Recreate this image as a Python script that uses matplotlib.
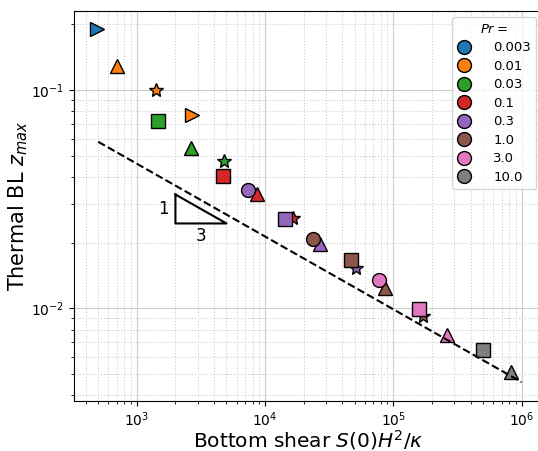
import numpy as np
import matplotlib.pyplot as plt

# Prandtl numbers and their colours
pr_labels = ['0.003', '0.01', '0.03', '0.1', '0.3', '1.0', '3.0', '10.0']
pr_colors = ['C0', 'C1', 'C2', 'C3', 'C4', 'C5', 'C6', 'C7']

# points: (Pr index, marker, shear, z_max)
pr_idx = [0, 1, 1, 1, 2, 2, 2, 3, 3, 3, 4, 4, 4, 4, 5, 5, 5, 5, 6, 6, 6, 7, 7]
markers = ['>', '^', '*', '>', 's', '^', '*', 's', '^', '*',
           'o', 's', '^', '*', 'o', 's', '^', '*', 'o', 's', '^', 's', '^']
shear = [485, 706, 1413, 2680, 1465, 2630, 4810, 4670, 8590, 16450,
         7310, 14260, 26680, 51500, 23660, 47100, 85500, 169800,
         76900, 157400, 263000, 497700, 828000]
zmax = [0.1897, 0.1285, 0.100, 0.0768, 0.0723, 0.0541, 0.0474, 0.0406, 0.0333, 0.0259,
        0.0348, 0.0256, 0.0197, 0.01524, 0.0207, 0.01665, 0.01236, 0.00923,
        0.01349, 0.00993, 0.00755, 0.00644, 0.00513]

# scaling line z ~ S^(-1/3)
line_x = np.array([500, 1e6])
line_c = 0.46

fig = plt.figure(figsize=(5.38, 4.51), dpi=100)
ax = fig.add_axes([0.138, 0.1115, 0.871, 0.8645])

for i, m, s, z in zip(pr_idx, markers, shear, zmax):
    ax.plot(s, z, marker=m, color=pr_colors[i], ms=10, mec='k', mew=1.0, ls='none')

ax.plot(line_x, line_c * line_x**(-1/3), 'k--', lw=1.5)

# slope triangle
tx0, tx1, ty0 = 2000, 5000, 0.0245
ty1 = ty0 * (tx1 / tx0)**(1/3)
ax.plot([tx0, tx0, tx1, tx0], [ty1, ty0, ty0, ty1], 'k-', lw=1.5)
ax.text(tx0 * 0.88, np.sqrt(ty0 * ty1), '1', fontsize=12, ha='right', va='center')
ax.text(np.sqrt(tx0 * tx1), ty0 * 0.96, '3', fontsize=12, ha='center', va='top')

ax.set_xscale('log')
ax.set_yscale('log')
ax.set_xlim(10**2.512, 10**6.166)
ax.set_ylim(0.00378, 0.2306)
ax.grid(True, which='major', ls='-', color='0.8')
ax.grid(True, which='minor', ls=':', color='0.8')

handles = [plt.Line2D([], [], marker='o', color=c, ms=10, mec='k', mew=1.0, ls='none')
           for c in pr_colors]
ax.legend(handles, pr_labels, title='$Pr =$', loc='upper right', fontsize=9.5,
          title_fontsize=9.5, labelspacing=0.42, handlelength=1.0, handletextpad=1.7)

ax.set_xlabel(r'Bottom shear $S(0)H^2/\kappa$', fontsize=14.5, labelpad=-1)
ax.set_ylabel(r'Thermal BL $z_{max}$', fontsize=15, labelpad=1)

fig.savefig('out.png', dpi=100)
